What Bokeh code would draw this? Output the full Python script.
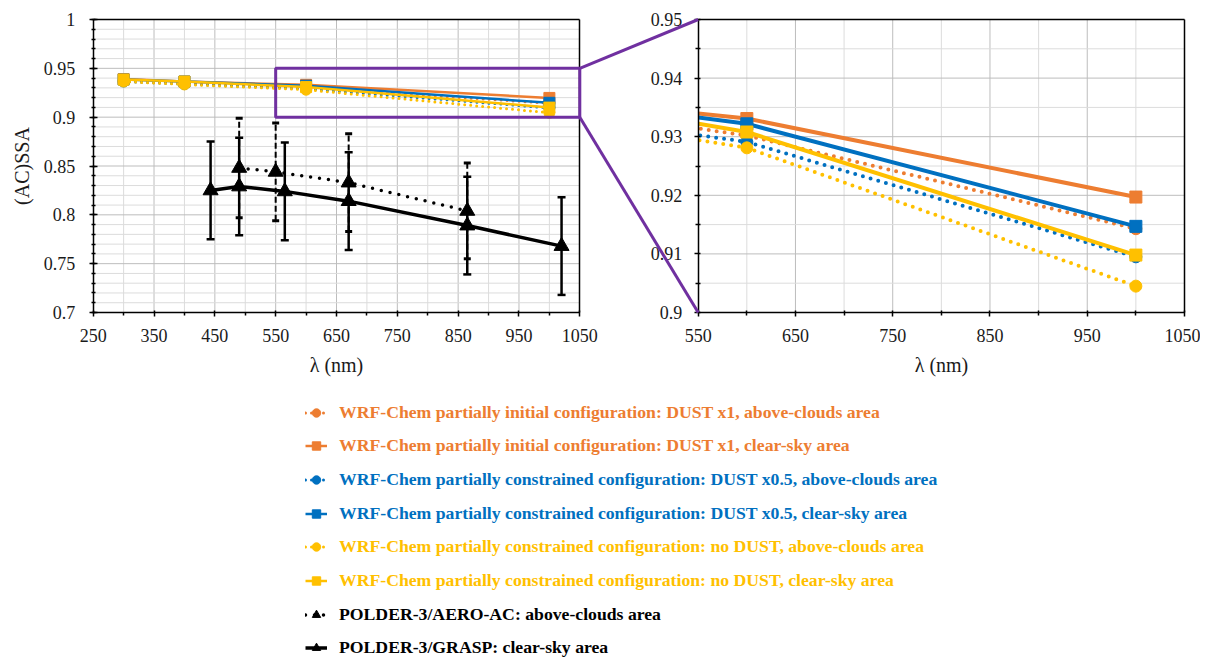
import numpy as np
from bokeh.plotting import figure
from bokeh.models import (Range1d, LinearAxis, FixedTicker, CustomJSTickFormatter,
                          ColumnDataSource, Whisker, TeeHead, Legend, LegendItem)
from bokeh.embed import file_html
from bokeh.resources import INLINE

# ------------------------------------------------------------------ data
wrf_wl = [300, 400, 600, 1000]
dust1_ac = [0.9370, 0.9350, 0.9302, 0.9143]
dust1_cs = [0.9390, 0.9365, 0.9331, 0.9197]
dust05_ac = [0.9365, 0.9338, 0.9291, 0.9095]
dust05_cs = [0.9385, 0.9365, 0.9322, 0.9147]
nodust_ac = [0.9365, 0.9335, 0.9281, 0.9045]
nodust_cs = [0.9385, 0.9365, 0.9308, 0.9098]

aero_wl = [490, 550, 670, 865]
aero_ssa = [0.848, 0.844, 0.833, 0.804]
aero_err = [0.051, 0.050, 0.050, 0.049]

grasp_wl = [443, 490, 565, 670, 865, 1020]
grasp_ssa = [0.825, 0.829, 0.824, 0.814, 0.789, 0.768]
grasp_err = [0.050, 0.050, 0.050, 0.050, 0.050, 0.050]

labels = [
    "WRF-Chem partially initial configuration: DUST x1, above-clouds area",
    "WRF-Chem partially initial configuration: DUST x1, clear-sky area",
    "WRF-Chem partially constrained configuration: DUST x0.5, above-clouds area",
    "WRF-Chem partially constrained configuration: DUST x0.5, clear-sky area",
    "WRF-Chem partially constrained configuration: no DUST, above-clouds area",
    "WRF-Chem partially constrained configuration: no DUST, clear-sky area",
    "POLDER-3/AERO-AC: above-clouds area",
    "POLDER-3/GRASP: clear-sky area",
]

# axis extents of the two panels and the zoom box
left_x = [250, 1050]
left_y = [0.70, 1.00]
zoom_x = [550, 1050]
zoom_y = [0.90, 0.95]

xl_major = [250, 350, 450, 550, 650, 750, 850, 950, 1050]
xl_minor = [300, 400, 500, 600, 700, 800, 900, 1000]
yl_major = [0.70, 0.75, 0.80, 0.85, 0.90, 0.95, 1.00]
xr_major = [550, 650, 750, 850, 950, 1050]
xr_minor = [600, 700, 800, 900, 1000]
yr_major = [0.90, 0.91, 0.92, 0.93, 0.94, 0.95]

ORANGE = "#ED7D31"
BLUE = "#0070C0"
YELLOW = "#FFC000"
BLACK = "#000000"
PURPLE = "#7030A0"
FONT = "Liberation Serif"

# ------------------------------------------------------------------ geometry (canvas px)
CW, CH = 1200, 658
LX0, LX1 = 92.7, 579.3
RX0, RX1 = 697.7, 1184.0
TOP, BOT = 19.0, 312.0
Y_LO = CH - BOT
Y_HI = CH - TOP


def span(v0, v1, p0, p1, total):
    k = (v1 - v0) / (p1 - p0)
    return v0 - p0 * k, v0 + (total - p0) * k


XL = span(left_x[0], left_x[1], LX0, LX1, CW)
YL = span(left_y[0], left_y[1], Y_LO, Y_HI, CH)
XR = span(zoom_x[0], zoom_x[1], RX0, RX1, CW)
YR = span(zoom_y[0], zoom_y[1], Y_LO, Y_HI, CH)

p = figure(frame_width=CW, frame_height=CH, min_border=0,
           min_border_left=0, min_border_right=0, min_border_top=0, min_border_bottom=0,
           x_range=Range1d(*XL), y_range=Range1d(*YL),
           x_axis_type=None, y_axis_type=None,
           outline_line_color=None, toolbar_location=None, output_backend="svg",
           background_fill_color="white", border_fill_color="white")
p.extra_x_ranges = {"rx": Range1d(*XR)}
p.extra_y_ranges = {"ry": Range1d(*YR)}
R = dict(x_range_name="rx", y_range_name="ry")


def rx_to_left(v):
    return XL[0] + (v - XR[0]) * (XL[1] - XL[0]) / (XR[1] - XR[0])


def ry_to_left(v):
    return YL[0] + (v - YR[0]) * (YL[1] - YL[0]) / (YR[1] - YR[0])


MAJ = "#bdbdbd"
MIN = "#dcdcdc"

# ---------------- right panel (drawn first, masked on the left)
vx = np.arange(600, 1001, 50)
p.segment(x0=vx, y0=zoom_y[0], x1=vx, y1=zoom_y[1], line_width=1,
          line_color=[MAJ if v % 100 == 50 else MIN for v in vx], level="image", **R)
hy = np.round(np.arange(0.905, 0.9451, 0.005), 3)
p.segment(x0=zoom_x[0], y0=hy, x1=zoom_x[1], y1=hy, line_width=1,
          line_color=[MAJ if round(v * 1000) % 10 == 0 else MIN for v in hy], level="image", **R)

series = [
    (dust1_ac, ORANGE, True, "circle"),
    (dust1_cs, ORANGE, False, "square"),
    (dust05_ac, BLUE, True, "circle"),
    (dust05_cs, BLUE, False, "square"),
    (nodust_ac, YELLOW, True, "circle"),
    (nodust_cs, YELLOW, False, "square"),
]
for vals, col, dotted, mk in series:
    if dotted:
        p.line(wrf_wl, vals, line_color=col, line_width=4, line_dash="0 8", line_cap="round",
               level="image", **R)
    else:
        p.line(wrf_wl, vals, line_color=col, line_width=4, level="image", **R)
    p.scatter(wrf_wl, vals, marker=mk, size=12, fill_color=col, line_color=col, level="image", **R)

# mask the part of the zoomed series that lies left of the right panel
p.quad(left=XR[0], right=zoom_x[0], bottom=zoom_y[0], top=zoom_y[1],
       fill_color="white", line_alpha=0, level="underlay", **R)

# ---------------- left panel
vxl = np.arange(300, 1001, 50)
p.segment(x0=vxl, y0=left_y[0], x1=vxl, y1=left_y[1], line_width=1,
          line_color=[MAJ if v % 100 == 50 else MIN for v in vxl], level="underlay")
hyl = np.round(np.arange(0.71, 0.9951, 0.01), 2)
p.segment(x0=left_x[0], y0=hyl, x1=left_x[1], y1=hyl, line_width=1,
          line_color=[MAJ if round(v * 100) % 5 == 0 else MIN for v in hyl], level="underlay")

asrc = ColumnDataSource(dict(x=aero_wl, y=aero_ssa,
                             up=[s + e for s, e in zip(aero_ssa, aero_err)],
                             lo=[s - e for s, e in zip(aero_ssa, aero_err)]))
gsrc = ColumnDataSource(dict(x=grasp_wl, y=grasp_ssa,
                             up=[s + e for s, e in zip(grasp_ssa, grasp_err)],
                             lo=[s - e for s, e in zip(grasp_ssa, grasp_err)]))
p.add_layout(Whisker(source=asrc, base="x", upper="up", lower="lo", dimension="height",
                     level="glyph", line_color=BLACK, line_width=2, line_dash="6 3",
                     upper_head=TeeHead(size=7, line_width=3, line_color=BLACK),
                     lower_head=TeeHead(size=7, line_width=3, line_color=BLACK)))
p.add_layout(Whisker(source=gsrc, base="x", upper="up", lower="lo", dimension="height",
                     level="glyph", line_color=BLACK, line_width=2.5,
                     upper_head=TeeHead(size=8, line_width=2.5, line_color=BLACK),
                     lower_head=TeeHead(size=8, line_width=2.5, line_color=BLACK)))

legend_renderers = []
for vals, col, dotted, mk in series:
    if dotted:
        lr = p.line(wrf_wl, vals, line_color=col, line_width=3, line_dash="0 6", line_cap="round")
    else:
        lr = p.line(wrf_wl, vals, line_color=col, line_width=2.5)
    sr = p.scatter(wrf_wl, vals, marker=mk, size=11, fill_color=col, line_color=col)
    legend_renderers.append([lr, sr])

lr = p.line("x", "y", source=asrc, line_color=BLACK, line_width=3.5, line_dash="0 9", line_cap="round")
sr = p.scatter("x", "y", source=asrc, marker="triangle", size=15, fill_color=BLACK, line_color=BLACK)
legend_renderers.append([lr, sr])
lr = p.line("x", "y", source=gsrc, line_color=BLACK, line_width=3.5)
sr = p.scatter("x", "y", source=gsrc, marker="triangle", size=15, fill_color=BLACK, line_color=BLACK)
legend_renderers.append([lr, sr])

# zoom box and connectors
p.quad(left=zoom_x[0], right=zoom_x[1], bottom=zoom_y[0], top=zoom_y[1],
       fill_alpha=0, line_color=PURPLE, line_width=3, level="annotation")
p.segment(x0=[zoom_x[1], zoom_x[1]], y0=[zoom_y[1], zoom_y[0]],
          x1=[rx_to_left(zoom_x[0])] * 2,
          y1=[ry_to_left(zoom_y[1]), ry_to_left(zoom_y[0])],
          line_color=PURPLE, line_width=3, level="annotation")

# ---------------- axes
fmt = CustomJSTickFormatter(code="return String(Number(tick.toFixed(3)));")


def style(ax, label_standoff, tin, tout, min_in, min_out):
    ax.axis_line_color = BLACK
    ax.axis_line_width = 1.5
    ax.major_tick_line_color = BLACK
    ax.major_tick_line_width = 1.5
    ax.minor_tick_line_color = BLACK
    ax.minor_tick_line_width = 1.5
    ax.major_tick_in = tin
    ax.major_tick_out = tout
    ax.minor_tick_in = min_in
    ax.minor_tick_out = min_out
    ax.major_label_standoff = label_standoff
    ax.major_label_text_font = FONT
    ax.major_label_text_font_size = "18px"
    ax.major_label_text_color = "#1a1a1a"
    ax.axis_label_text_font = FONT
    ax.axis_label_text_font_size = "20px"
    ax.axis_label_text_font_style = "normal"
    ax.axis_label_text_color = "#1a1a1a"


def border(**kw):
    return LinearAxis(ticker=FixedTicker(ticks=[]), major_tick_in=0, major_tick_out=0,
                      minor_tick_in=0, minor_tick_out=0, axis_line_color=BLACK,
                      axis_line_width=1.5, **kw)


ax = LinearAxis(fixed_location=left_x[0], bounds=tuple(left_y),
                ticker=FixedTicker(ticks=yl_major,
                                   minor_ticks=list(np.round(np.arange(0.70, 1.0001, 0.01), 2))),
                formatter=fmt, axis_label="(AC)SSA", axis_label_standoff=8)
style(ax, 14, 4, 4, 2, 2)
p.add_layout(ax, "left")

ax = LinearAxis(fixed_location=left_y[0], bounds=tuple(left_x),
                ticker=FixedTicker(ticks=xl_major, minor_ticks=xl_minor),
                axis_label="λ (nm)", axis_label_standoff=9)
style(ax, 12, 2, 4, 0, 3)
p.add_layout(ax, "below")

p.add_layout(border(fixed_location=left_y[1], bounds=tuple(left_x)), "above")
p.add_layout(border(fixed_location=left_x[1], bounds=tuple(left_y)), "right")

ax = LinearAxis(fixed_location=zoom_x[0], bounds=tuple(zoom_y),
                ticker=FixedTicker(ticks=yr_major,
                                   minor_ticks=list(np.round(np.arange(0.905, 0.9451, 0.01), 3))),
                formatter=fmt, **R)
style(ax, 12, 2, 4, 2, 3)
p.add_layout(ax, "left")

ax = LinearAxis(fixed_location=zoom_y[0], bounds=tuple(zoom_x),
                ticker=FixedTicker(ticks=xr_major, minor_ticks=xr_minor),
                axis_label="λ (nm)", axis_label_standoff=9, **R)
style(ax, 12, 2, 4, 2, 3)
p.add_layout(ax, "below")

p.add_layout(border(fixed_location=zoom_y[1], bounds=tuple(zoom_x), **R), "above")
p.add_layout(border(fixed_location=zoom_x[1], bounds=tuple(zoom_y), **R), "right")

# ---------------- legends (one per entry so each label gets its colour)
LEG_X = 299                 # canvas px from the left
LEG_H = 33                  # height of one legend box (padding 6 + item 21 + padding 6)
LEG_C0 = 412.0              # canvas px (from top) of the first row centre
LEG_PITCH = 33.7            # distance between row centres
leg_colors = [ORANGE, ORANGE, BLUE, BLUE, YELLOW, YELLOW, BLACK, BLACK]
for i, (lab, rends, col) in enumerate(zip(labels, legend_renderers, leg_colors)):
    centre = LEG_C0 + LEG_PITCH * i
    lg = Legend(items=[LegendItem(label=lab, renderers=rends)],
                location=(LEG_X, CH - centre - LEG_H / 2), orientation="vertical",
                padding=6, margin=0, spacing=0,
                glyph_width=22, glyph_height=21, label_height=21, label_standoff=12,
                label_text_font=FONT, label_text_font_style="bold",
                label_text_font_size="17.7px", label_text_color=col,
                border_line_alpha=0, background_fill_alpha=0)
    p.add_layout(lg, "center")

open("out.html", "w").write(file_html(p, INLINE))
